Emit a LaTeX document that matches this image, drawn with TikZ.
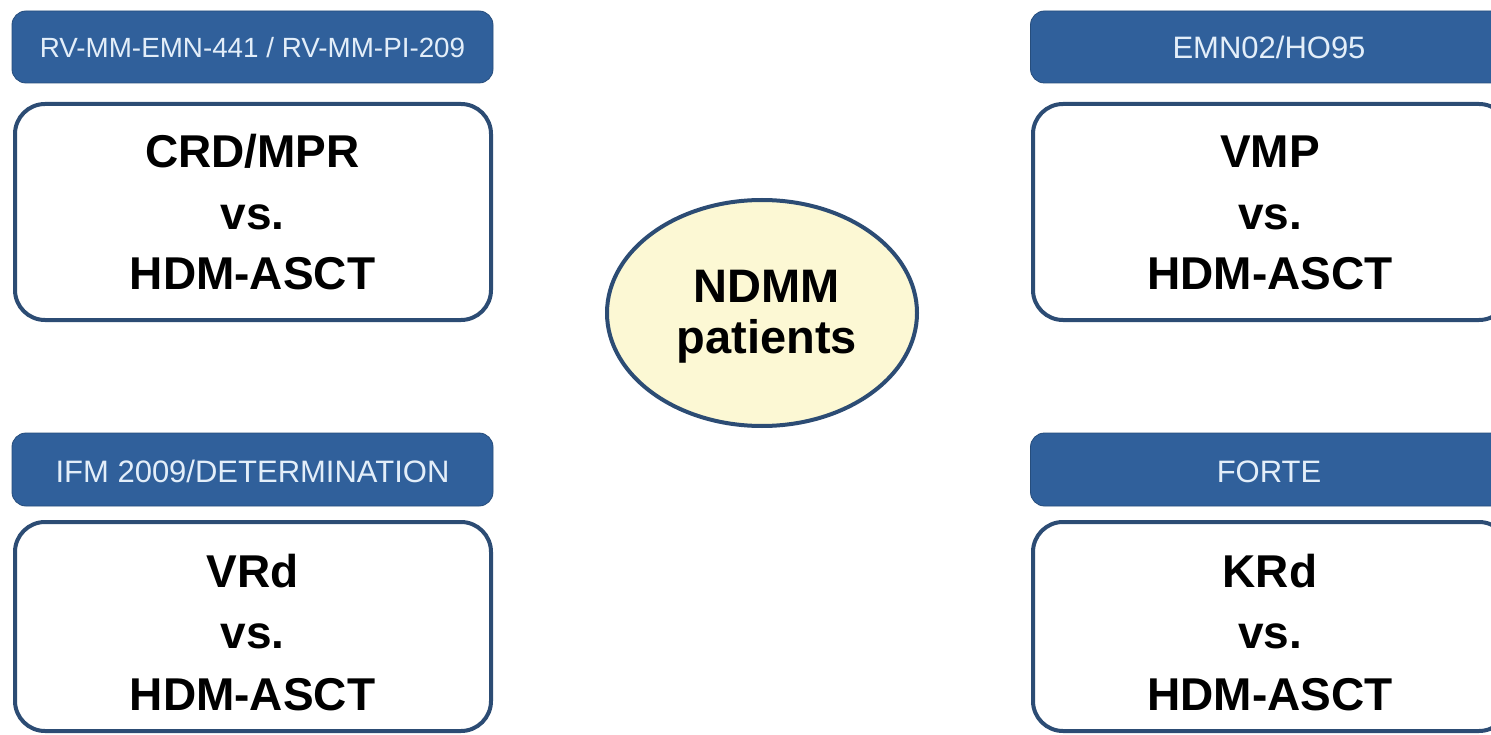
\documentclass[tikz,border=0pt]{standalone}
\usepackage{fontspec}
\setmainfont{Liberation Sans}
\usetikzlibrary{shapes.geometric}
\definecolor{hdrblue}{HTML}{30609B}
\definecolor{bordblue}{HTML}{2C4C74}
\definecolor{hdrtext}{HTML}{E3EEF9}
\definecolor{ellfill}{HTML}{FCF8D4}
\tikzset{
  hdr/.style={fill=hdrblue, draw=hdrblue!80!black, line width=0.8pt, rounded corners=14pt, minimum width=481pt, minimum height=72pt, inner sep=0pt},
  arm/.style={draw=bordblue, line width=4pt, fill=white, rounded corners=30pt, minimum width=476pt, inner sep=0pt},
  hdrtxt/.style={text=hdrtext, anchor=base, inner sep=0pt},
  bigtxt/.style={font=\fontsize{46}{55}\selectfont\bfseries, anchor=base, inner sep=0pt},
  elltxt/.style={font=\fontsize{47}{56}\selectfont\bfseries, anchor=base, inner sep=0pt}
}
\begin{document}
\begin{tikzpicture}[x=1pt,y=-1pt]
\useasboundingbox[fill=white] (0,0) rectangle (1491,735);
% top left
\node[hdr] (h1) at (252.5,47) {};
\node[hdrtxt, font=\fontsize{27.8}{30}\selectfont] (h1t) at (252.5,58) {RV-MM-EMN-441 / RV-MM-PI-209};
\node[arm, minimum height=216pt] (b1) at (253,212) {};
\node[bigtxt] (b1a) at (252.5,168) {CRD/MPR};
\node[bigtxt] (b1b) at (252.5,230) {vs.};
\node[bigtxt] (b1c) at (252.5,290) {HDM-ASCT};
% bottom left
\node[hdr, minimum height=73pt] (h2) at (252.5,469.5) {};
\node[hdrtxt, font=\fontsize{31}{34}\selectfont] (h2t) at (252.5,482) {IFM 2009/DETERMINATION};
\node[arm, minimum height=209pt] (b2) at (253,626.5) {};
\node[bigtxt] (b2a) at (252.5,587) {VRd};
\node[bigtxt] (b2b) at (252.5,648) {vs.};
\node[bigtxt] (b2c) at (252.5,710) {HDM-ASCT};
% top right
\node[hdr] (h3) at (1271,47) {};
\node[hdrtxt, font=\fontsize{31}{34}\selectfont] (h3t) at (1269,59) {EMN02/HO95};
\node[arm, minimum height=216pt] (b3) at (1271,212) {};
\node[bigtxt] (b3a) at (1270,168) {VMP};
\node[bigtxt] (b3b) at (1270,230) {vs.};
\node[bigtxt] (b3c) at (1270,290) {HDM-ASCT};
% bottom right
\node[hdr, minimum height=73pt] (h4) at (1271,469.5) {};
\node[hdrtxt, font=\fontsize{31}{34}\selectfont] (h4t) at (1269,482) {FORTE};
\node[arm, minimum height=209pt] (b4) at (1271,626.5) {};
\node[bigtxt] (b4a) at (1270,587) {KRd};
\node[bigtxt] (b4b) at (1270,648) {vs.};
\node[bigtxt] (b4c) at (1270,710) {HDM-ASCT};
% centre
\node[ellipse, draw=bordblue, line width=4pt, fill=ellfill, minimum width=310pt, minimum height=226pt, inner sep=0pt] (ndmm) at (762,313) {};
\node[elltxt] (n1) at (767,303) {NDMM};
\node[elltxt] (n2) at (767,353) {patients};
\end{tikzpicture}
\end{document}
